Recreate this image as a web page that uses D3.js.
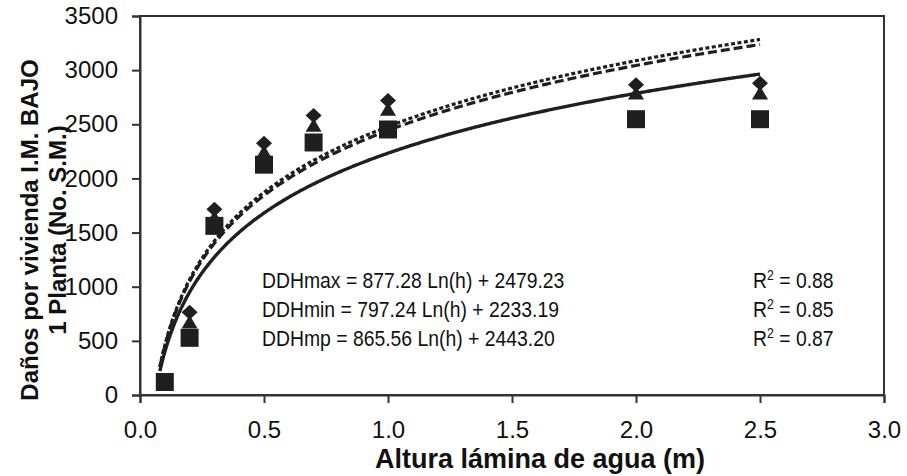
<!DOCTYPE html>
<html>
<head>
<meta charset="utf-8">
<script src="https://cdn.jsdelivr.net/npm/d3@7"></script>
<style>
  html, body { margin: 0; padding: 0; background: #fff; }
  svg { display: block; font-family: "Liberation Sans", Arial, sans-serif; }
</style>
</head>
<body>
<svg id="chart" width="907" height="476"></svg>
<script>
// ---- data ----
const alturas = [0.1, 0.2, 0.3, 0.5, 0.7, 1.0, 2.0, 2.5];
const ddhMax = [130, 765, 1715, 2325, 2580, 2720, 2865, 2880];   // diamonds
const ddhMp  = [125, 675, 1640, 2245, 2490, 2640, 2790, 2790];   // triangles
const ddhMin = [120, 528, 1562, 2127, 2332, 2452, 2547, 2547];   // squares

// trend-line coefficients shown on the chart: a*Ln(h)+b
const coefMax = [877.28, 2479.23];
const coefMin = [797.24, 2233.19];
const coefMp  = [865.56, 2443.20];
const trendRange = [0.08, 2.5];

const xTicks = [0, 0.5, 1.0, 1.5, 2.0, 2.5, 3.0];
const yTicks = [0, 500, 1000, 1500, 2000, 2500, 3000, 3500];

const eqLabels = [
  "DDHmax = 877.28 Ln(h) + 2479.23",
  "DDHmin = 797.24 Ln(h) + 2233.19",
  "DDHmp = 865.56 Ln(h) + 2443.20"
];
const r2Labels = ["0.88", "0.85", "0.87"];

// ---- layout ----
const svg = d3.select("#chart");
const L = 140, R = 884, T = 16, B = 395;
const x = d3.scaleLinear().domain([0, 3]).range([L, R]);
const y = d3.scaleLinear().domain([0, 3500]).range([B, T]);
const ink = "#1f1f1f";
const FONT = "'Liberation Sans', Arial, sans-serif";

// frame
svg.append("rect").attr("x", L).attr("y", T).attr("width", R - L).attr("height", B - T)
  .attr("fill", "none").attr("stroke", "#333").attr("stroke-width", 2);

// axes
const xAxis = svg.append("g").attr("transform", `translate(0,${B})`)
  .call(d3.axisBottom(x).tickValues(xTicks).tickFormat(d3.format(".1f")).tickSize(8).tickPadding(18));
const yAxis = svg.append("g").attr("transform", `translate(${L},0)`)
  .call(d3.axisLeft(y).tickValues(yTicks).tickFormat(d3.format("d")).tickSize(8).tickPadding(14));
[xAxis, yAxis].forEach(g => {
  g.select(".domain").attr("stroke", "#333").attr("stroke-width", 2);
  g.selectAll(".tick line").attr("stroke", "#333").attr("stroke-width", 2);
  g.selectAll(".tick text").attr("fill", "#111").style("font-size", "24px").style("font-family", FONT);
});

// trend lines
const hs = d3.range(trendRange[0], trendRange[1] + 1e-9, 0.005);
const line = d3.line().x(d => x(d[0])).y(d => y(d[1]));
function trend(coef) { return hs.map(h => [h, coef[0] * Math.log(h) + coef[1]]); }
svg.append("path").datum(trend(coefMin)).attr("d", line)
  .attr("fill", "none").attr("stroke", ink).attr("stroke-width", 3.4);
svg.append("path").datum(trend(coefMp)).attr("d", line)
  .attr("fill", "none").attr("stroke", ink).attr("stroke-width", 3.2).attr("stroke-dasharray", "9,4");
svg.append("path").datum(trend(coefMax)).attr("d", line)
  .attr("fill", "none").attr("stroke", ink).attr("stroke-width", 3.2).attr("stroke-dasharray", "4,2.5");

// marker shapes (custom d3 symbol types)
const triType = { draw(c) { c.moveTo(0, -7); c.lineTo(8, 6.5); c.lineTo(-8, 6.5); c.closePath(); } };
const diaType = { draw(c) { c.moveTo(0, -7.5); c.lineTo(8, 0); c.lineTo(0, 7.5); c.lineTo(-8, 0); c.closePath(); } };
const sqType  = { draw(c) { c.rect(-9, -9, 18, 18); } };

svg.append("g").selectAll("path").data(alturas).join("path")
  .attr("d", d3.symbol().type(triType)).attr("fill", ink)
  .attr("transform", (d, i) => `translate(${x(d)},${y(ddhMp[i])})`);
svg.append("g").selectAll("path").data(alturas).join("path")
  .attr("d", d3.symbol().type(diaType)).attr("fill", ink)
  .attr("transform", (d, i) => `translate(${x(d)},${y(ddhMax[i])})`);
svg.append("g").selectAll("path").data(alturas).join("path")
  .attr("d", d3.symbol().type(sqType)).attr("fill", ink)
  .attr("transform", (d, i) => `translate(${x(d)},${y(ddhMin[i])})`);

// equations (slightly condensed, as in the reference)
const eqScale = 0.88;
const eq = svg.append("g").attr("fill", "#111").style("font-size", "22px")
  .attr("transform", `translate(262,0) scale(${eqScale},1)`);
eqLabels.forEach((t, i) => {
  eq.append("text").attr("x", 0).attr("y", 288 + i * 29).text(t);
  const r = eq.append("text").attr("x", (753 - 262) / eqScale).attr("y", 288 + i * 29);
  r.append("tspan").text("R");
  r.append("tspan").attr("dy", -8).style("font-size", "14px").text("2");
  r.append("tspan").attr("dy", 8).text(" = " + r2Labels[i]);
});

// axis titles
svg.append("text").attr("x", 540).attr("y", 468).attr("text-anchor", "middle")
  .style("font-size", "27px").style("font-weight", "bold").attr("fill", "#111")
  .text("Altura lámina de agua (m)");
const yt = svg.append("text").attr("transform", `translate(0,230) rotate(-90)`)
  .attr("text-anchor", "middle").style("font-size", "24px").style("font-weight", "bold").attr("fill", "#111");
yt.append("tspan").attr("x", 0).attr("y", 38).text("Daños por vivienda I.M. BAJO");
yt.append("tspan").attr("x", 0).attr("y", 66).text("1 Planta (No. S.M.)");
</script>
</body>
</html>
